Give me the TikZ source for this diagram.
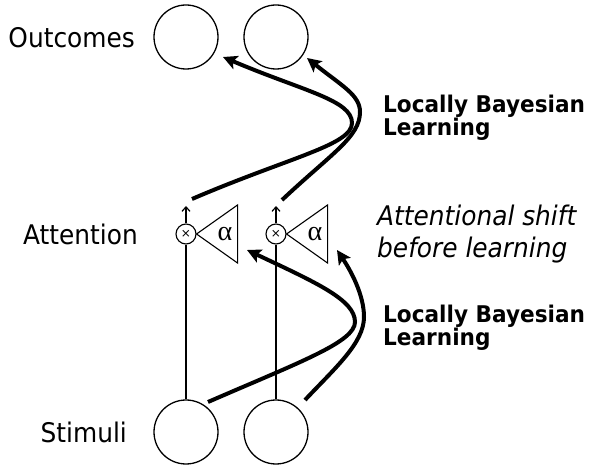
\documentclass[tikz,border=0pt]{standalone}
\usepackage{fontspec}
\setmainfont{DejaVu Sans}[FakeStretch=0.92]
\newfontfamily\headfont{DejaVu Sans}[FakeStretch=0.94]
\newfontfamily\alphafont{Liberation Serif}
\newfontfamily\symfont{DejaVu Sans}
\usetikzlibrary{arrows.meta}

\tikzset{
  unit/.style={circle, draw, line width=1.3pt, minimum size=64pt, inner sep=0pt},
  gate/.style={circle, draw, line width=1.1pt, minimum size=20pt, inner sep=0pt,
               font=\symfont\fontsize{12}{12}\selectfont},
  gain/.style={draw, line width=1.1pt, line join=miter},
  gainsym/.style={inner sep=0pt, font=\alphafont\fontsize{28}{28}\selectfont},
  rowlabel/.style={anchor=base east, inner sep=0pt, font=\fontsize{27}{32}\selectfont},
  learnlabel/.style={anchor=west, align=left, inner sep=0pt,
                     font=\headfont\bfseries\fontsize{23}{23}\selectfont},
  shiftlabel/.style={anchor=west, align=left, inner sep=0pt,
                     font=\itshape\fontsize{27}{32}\selectfont},
  wire/.style={line width=1.2pt},
  outwire/.style={line width=1.2pt, -{Straight Barb[length=4.5pt,width=8pt]}},
  learn/.style={line width=4pt, -{Stealth[length=14pt,width=14pt,inset=3pt]}},
}

\begin{document}
\begin{tikzpicture}[x=1pt,y=1pt]
\useasboundingbox (0,0) rectangle (598,-465);

% outcome and stimulus units
\node[unit] (o1) at (186,-37) {};
\node[unit] (o2) at (276,-37) {};
\node[unit] (s1) at (186,-432) {};
\node[unit] (s2) at (276,-432) {};

% attention gates with their gain triangles
\node[gate] (g1) at (186,-234) {×};
\node[gate] (g2) at (276,-234) {×};
\draw[gain] (g1.east) -- ++(41,29) -- ++(0,-58) -- cycle;
\draw[gain] (g2.east) -- ++(41,29) -- ++(0,-58) -- cycle;
\node[gainsym] (a1) at (225,-234) {α};
\node[gainsym] (a2) at (315,-234) {α};

% stimulus wires into the gates, gated output upwards
\coordinate (t1) at (186,-206);
\coordinate (t2) at (276,-206);
\draw[wire] (s1.north) -- (g1.south);
\draw[wire] (s2.north) -- (g2.south);
\draw[outwire] (g1.north) -- (t1);
\draw[outwire] (g2.north) -- (t2);

% row labels
\node[rowlabel] (lo) at (135,-48) {Outcomes};
\node[rowlabel] (la) at (138,-245) {Attention};
\node[rowlabel] (ls) at (127,-443) {Stimuli};

% side annotations
\node[learnlabel] (lb1) at (383,-117.5) {Locally Bayesian\\Learning};
\node[shiftlabel] (sh) at (377,-234) {Attentional shift\\before learning};
\node[learnlabel] (lb2) at (383,-327.5) {Locally Bayesian\\Learning};

% learning arrows: attention -> outcomes
\coordinate (u1s) at (192,-199);
\coordinate (u1p) at (352,-123);
\coordinate (u1e) at (223,-57);
\coordinate (u2s) at (282,-200);
\coordinate (u2p) at (360,-112);
\coordinate (u2e) at (307,-58);
\draw[learn] (u1s) .. controls (290,-157) and (352,-145) .. (u1p)
                   .. controls (352,-100) and (303,-91) .. (u1e);
\draw[learn] (u2s) .. controls (332,-153) and (360,-137) .. (u2p)
                   .. controls (360,-95) and (342,-86) .. (u2e);

% learning arrows: stimuli -> attention
\coordinate (l1s) at (208,-402);
\coordinate (l1p) at (355,-322);
\coordinate (l1e) at (247,-250);
\coordinate (l2s) at (305,-400);
\coordinate (l2p) at (364,-317);
\coordinate (l2e) at (337,-250);
\draw[learn] (l1s) .. controls (300,-362) and (355,-342) .. (l1p)
                   .. controls (355,-300) and (317,-283) .. (l1e);
\draw[learn] (l2s) .. controls (335,-368) and (364,-343) .. (l2p)
                   .. controls (364,-295) and (351,-271) .. (l2e);
\end{tikzpicture}
\end{document}
